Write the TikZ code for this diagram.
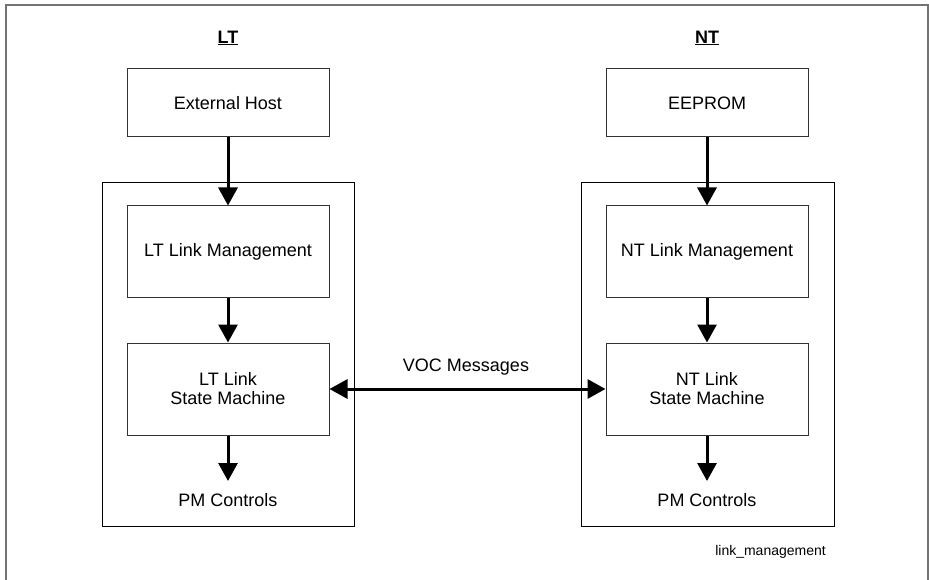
\documentclass[tikz,border=0pt]{standalone}
\usepackage{fontspec}
\setmainfont{Liberation Sans}
\usetikzlibrary{arrows.meta}
\begin{document}
\begin{tikzpicture}[x=1pt,y=-1pt,
  blk/.style={draw=black!80,line width=1pt,minimum width=202pt,align=center,font=\fontsize{18pt}{19pt}\selectfont,inner sep=0pt},
  cont/.style={draw=black,line width=1pt},
  lbl/.style={font=\fontsize{18pt}{19pt}\selectfont,inner sep=0pt},
  ttl/.style={font=\bfseries\fontsize{18pt}{19pt}\selectfont,inner sep=0pt},
  arr/.style={line width=3pt,-{Triangle[width=19pt,length=18pt]}},
  darr/.style={line width=3pt,{Triangle[width=19pt,length=18pt]}-{Triangle[width=19pt,length=18pt]}}]
\useasboundingbox (0,0) rectangle (929,580);
\draw[draw=black!55,line width=1.2pt] (6,600) -- (6,5) -- (928,5) -- (928,600);
% containers
\draw[cont] (102,183) rectangle (354,526);
\draw[cont] (581,183) rectangle (834,526);
% titles
\node[ttl] (lt) at (228,38) {\underline{LT}};
\node[ttl] (nt) at (707,38) {\underline{NT}};
% LT side
\node[blk,minimum height=68pt] (host) at (228,103) {External Host};
\node[blk,minimum height=91pt] (ltlm) at (228,251.5) {LT Link Management};
\node[blk,minimum height=92pt] (ltsm) at (228,389) {LT Link\\State Machine};
\node[lbl] (ltpm) at (228,500) {PM Controls};
% NT side
\node[blk,minimum height=68pt] (eep) at (707,103) {EEPROM};
\node[blk,minimum height=91pt] (ntlm) at (707,251.5) {NT Link Management};
\node[blk,minimum height=92pt] (ntsm) at (707,389) {NT Link\\State Machine};
\node[lbl] (ntpm) at (707,500) {PM Controls};
% arrows
\draw[arr] (host.south) -- (ltlm.north);
\draw[arr] (ltlm.south) -- (ltsm.north);
\draw[arr] (ltsm.south) -- (228,481);
\draw[arr] (eep.south) -- (ntlm.north);
\draw[arr] (ntlm.south) -- (ntsm.north);
\draw[arr] (ntsm.south) -- (707,481);
\draw[darr] (ltsm.east) -- (ntsm.west);
\node[lbl] (voc) at (466,367) {VOC Messages};
\node[font=\fontsize{14pt}{15pt}\selectfont,inner sep=0pt,anchor=east] (lm) at (826,552) {link\_management};
\end{tikzpicture}
\end{document}
